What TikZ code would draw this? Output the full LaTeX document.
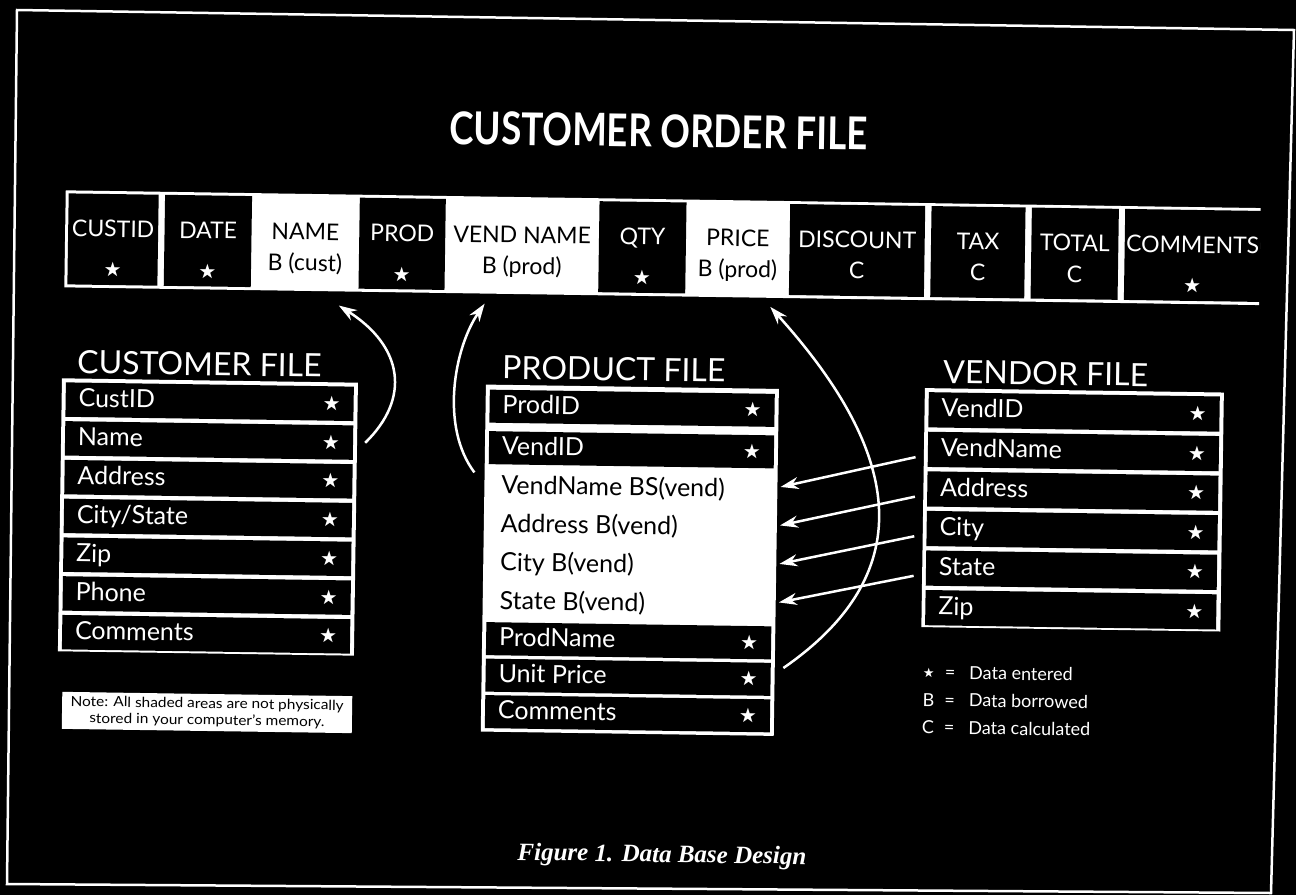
\documentclass[tikz,border=0pt]{standalone}
\usepackage{graphicx}
\usepackage{fontspec}
\setmainfont{Lato}
\newfontfamily\symf{DejaVu Sans}
\newfontfamily\capf{Liberation Serif}
\usetikzlibrary{arrows.meta,calc,positioning}
\newcommand{\ent}{{\symf\fontsize{20}{20}\selectfont ★}}
\newcommand{\os}{\smash{\raisebox{-9pt}{\ent}}}
\newcommand{\oc}[2]{\rule{0pt}{35pt}#1\\#2\rule[-9pt]{0pt}{9pt}}
\newcommand{\crl}[1]{\makebox[262pt][l]{#1\hfill\ent}}
\newcommand{\prl}[1]{\makebox[259pt][l]{#1\hfill\ent}}
\newcommand{\pwl}[1]{\makebox[259pt][l]{#1}}
\newcommand{\vrl}[1]{\makebox[265pt][l]{#1\hfill\ent}}
\tikzset{frame/.style={fill=white, inner sep=0pt}}
\tikzstyle{ocell}=[fill=black, text=white, inner sep=0pt, minimum height=91pt, align=center, font=\fontsize{23}{31}\selectfont]
\tikzstyle{ocellw}=[ocell, fill=white, text=black]
\tikzstyle{row}=[fill=black, text=white, inner xsep=13pt, inner ysep=0pt, text height=19pt, text depth=5pt, font=\fontsize{25}{30}\selectfont]
\tikzstyle{crow}=[row, minimum height=34.4pt]
\tikzstyle{prow}=[row, minimum height=33pt]
\tikzstyle{wrow}=[prow, fill=white, text=black]
\tikzstyle{vrow}=[row, minimum height=35.2pt]
\tikzstyle{ftitle}=[anchor=base west, inner sep=0pt, text=white, font=\fontsize{32}{32}\selectfont]
\tikzstyle{arr}=[->, white, line width=2.5pt]

\begin{document}
\begin{tikzpicture}[x=1pt, y=-1pt, >={Stealth[length=18pt,width=12pt]}]
\useasboundingbox (0,0) rectangle (1296,895);
\fill[black] (0,0) rectangle (1296,895);
\draw[white, line width=2.5pt] (17,10) -- (1294,30) -- (1271,893) -- (7,884) -- cycle;

\begin{scope}[rotate around={-0.85:(648,447)}, transform shape]
\node[anchor=base, inner sep=0pt, text=white, font=\bfseries] (T) at (654,147) {\resizebox{418pt}{33pt}{CUSTOMER ORDER FILE}};

% customer order file
\node[frame, minimum width=1195pt, minimum height=97pt] (OF) at (659.5,247.5) {};
\node[ocell, minimum width=90pt] (O1) at (110,247.5) {\oc{CUSTID}{\os}};
\node[ocell, minimum width=87pt, right=6pt of O1] (O2) {\oc{DATE}{\os}};
\node[ocellw, minimum width=95pt, right=6pt of O2] (O3) {\oc{NAME}{B (cust)}};
\node[ocell, minimum width=86pt, right=6pt of O3] (O4) {\oc{PROD}{\os}};
\node[ocellw, minimum width=141pt, right=6pt of O4] (O5) {\oc{VEND NAME}{B (prod)}};
\node[ocell, minimum width=87pt, right=6pt of O5] (O6) {\oc{QTY}{\os}};
\node[ocellw, minimum width=91pt, right=6pt of O6] (O7) {\oc{PRICE}{B (prod)}};
\node[ocell, minimum width=135pt, right=6pt of O7] (O8) {\oc{DISCOUNT}{C}};
\node[ocell, minimum width=94pt, right=6pt of O8] (O9) {\oc{TAX}{C}};
\node[ocell, minimum width=87pt, right=6pt of O9] (O10) {\oc{TOTAL}{C}};
\node[ocell, minimum width=136pt, right=6pt of O10] (O11) {\oc{COMMENTS}{\os}};

% customer file
\node[ftitle] (CT) at (76,382) {CUSTOMER FILE};
\node[frame, minimum width=296pt, minimum height=273pt] (CF) at (209,523.5) {};
\node[crow] (C1) at (209,408.2) {\crl{CustID}};
\node[crow, below=4pt of C1] (C2) {\crl{Name}};
\node[crow, below=4pt of C2] (C3) {\crl{Address}};
\node[crow, below=4pt of C3] (C4) {\crl{City/State}};
\node[crow, below=4pt of C4] (C5) {\crl{Zip}};
\node[crow, below=4pt of C5] (C6) {\crl{Phone}};
\node[crow, below=4pt of C6] (C7) {\crl{Comments}};
\node[fill=white, text=black, inner sep=0pt, minimum width=290pt, minimum height=37pt, align=center, font=\fontsize{14}{16.5}\selectfont] (NT) at (211,719) {\scalebox{1.1}[1]{Note: All shaded areas are not physically}\\\scalebox{1.1}[1]{stored in your computer’s memory.}};

% product file
\node[ftitle] (PT) at (501,381) {PRODUCT FILE};
\node[frame, minimum width=293pt, minimum height=347pt] (PF) at (631.5,560.5) {};
\node[prow] (P1) at (631.5,408.5) {\prl{ProdID}};
\node[prow] (P2) at (631.5,450) {\prl{VendID}};
\node[wrow] (P3) at (631.5,489) {\pwl{VendName BS(vend)}};
\node[wrow] (P4) at (631.5,527.5) {\pwl{Address B(vend)}};
\node[wrow] (P5) at (631.5,566) {\pwl{City B(vend)}};
\node[wrow] (P6) at (631.5,604.5) {\pwl{State B(vend)}};
\node[prow] (P7) at (631.5,641) {\prl{ProdName}};
\node[prow] (P8) at (631.5,677.5) {\prl{Unit Price}};
\node[prow] (P9) at (631.5,714) {\prl{Comments}};

% vendor file
\node[ftitle] (VT) at (942,379) {VENDOR FILE};
\node[frame, minimum width=299pt, minimum height=239pt] (VF) at (1073.5,503.5) {};
\node[vrow] (V1) at (1073.5,405.6) {\vrl{VendID}};
\node[vrow, below=4pt of V1] (V2) {\vrl{VendName}};
\node[vrow, below=4pt of V2] (V3) {\vrl{Address}};
\node[vrow, below=4pt of V3] (V4) {\vrl{City}};
\node[vrow, below=4pt of V4] (V5) {\vrl{State}};
\node[vrow, below=4pt of V5] (V6) {\vrl{Zip}};

\node[anchor=base west, inner sep=0pt, text=white, font=\fontsize{18}{27.5}\selectfont] (LG) at (926,674.5) {\begin{tabular}[t]{@{}c@{\hspace{10pt}}c@{\hspace{14pt}}l@{}}\raisebox{1pt}{\symf\fontsize{13}{13}\selectfont ★} & = & Data entered\\ B & = & Data borrowed\\ C & = & Data calculated\end{tabular}};

% borrowed data
\draw[arr] ($(C2.east)+(12,0)$) .. controls +(45,-45) and +(65,40) .. ($(O3.south)+(34.5,17)$);
\draw[arr] ($(P3.west)+(-14,-14)$) .. controls +(-35,-45) and +(-30,45) .. ($(O5.south)+(-36.5,13)$);
\draw[arr] ($(P8.east)+(12.5,-11.5)$) .. controls +(140,-100) and +(130,140) .. ($(O7.south)+(33.5,12)$);
\foreach \a/\b in {V2/P3,V3/P4,V4/P5,V5/P6}
  \draw[arr] ($(\a.west)+(-12,8)$) -- ($(\b.east)+(7,-4)$);

\node[anchor=base, inner sep=0pt, text=white, font=\capf\bfseries\itshape\fontsize{25}{25}\selectfont] (FG) at (668,862) {Figure 1. Data Base Design};
\end{scope}
\end{tikzpicture}
\end{document}
